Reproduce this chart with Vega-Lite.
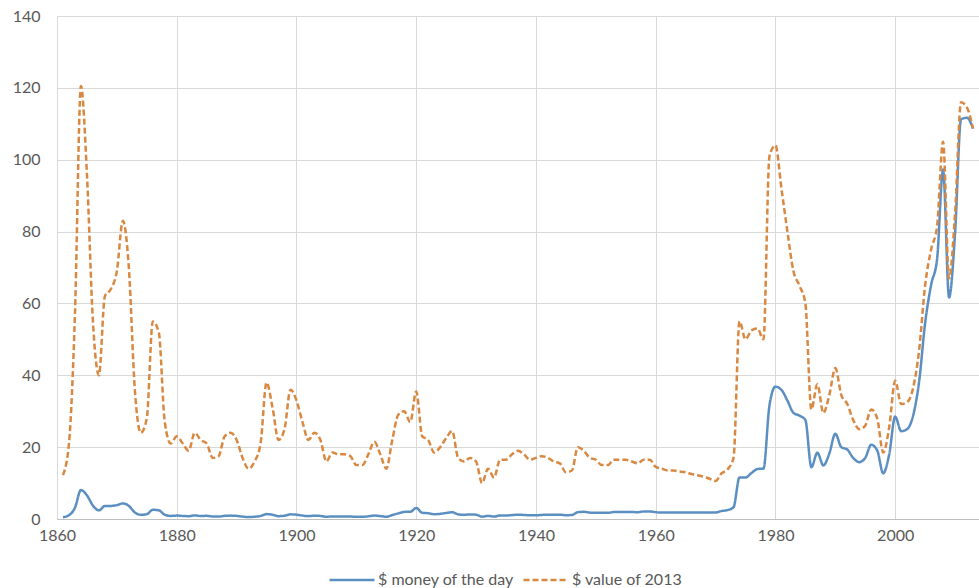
{
  "$schema": "https://vega.github.io/schema/vega-lite/v6.json",
  "width": 922,
  "height": 503,
  "autosize": {"type": "none"},
  "padding": {"left": 57, "top": 16, "right": 0, "bottom": 69},
  "background": "#ffffff",
  "config": {
    "view": {"stroke": null},
    "font": "Lato",
    "axis": {"labelFont": "Lato", "labelFontSize": 16, "labelColor": "#595959", "gridColor": "#d9d9d9", "gridWidth": 1, "ticks": false, "title": null, "labelFlush": false},
    "legend": {"labelFont": "Lato", "labelFontSize": 16, "labelColor": "#595959"}
  },
  "data": {
    "values": [
      {"year":1861,"$ money of the day":0.49,"$ value of 2013":12.2},
      {"year":1862,"$ money of the day":1.05,"$ value of 2013":21},
      {"year":1863,"$ money of the day":3.15,"$ value of 2013":57},
      {"year":1864,"$ money of the day":8.06,"$ value of 2013":120.5},
      {"year":1865,"$ money of the day":6.59,"$ value of 2013":96},
      {"year":1866,"$ money of the day":3.74,"$ value of 2013":55},
      {"year":1867,"$ money of the day":2.41,"$ value of 2013":40},
      {"year":1868,"$ money of the day":3.63,"$ value of 2013":62},
      {"year":1869,"$ money of the day":3.64,"$ value of 2013":64},
      {"year":1870,"$ money of the day":3.86,"$ value of 2013":69},
      {"year":1871,"$ money of the day":4.34,"$ value of 2013":83},
      {"year":1872,"$ money of the day":3.64,"$ value of 2013":70},
      {"year":1873,"$ money of the day":1.83,"$ value of 2013":36},
      {"year":1874,"$ money of the day":1.17,"$ value of 2013":24},
      {"year":1875,"$ money of the day":1.35,"$ value of 2013":28},
      {"year":1876,"$ money of the day":2.56,"$ value of 2013":55},
      {"year":1877,"$ money of the day":2.42,"$ value of 2013":52},
      {"year":1878,"$ money of the day":1.19,"$ value of 2013":27},
      {"year":1879,"$ money of the day":0.86,"$ value of 2013":21},
      {"year":1880,"$ money of the day":0.95,"$ value of 2013":23},
      {"year":1881,"$ money of the day":0.86,"$ value of 2013":21},
      {"year":1882,"$ money of the day":0.78,"$ value of 2013":19},
      {"year":1883,"$ money of the day":1.0,"$ value of 2013":24},
      {"year":1884,"$ money of the day":0.84,"$ value of 2013":22},
      {"year":1885,"$ money of the day":0.88,"$ value of 2013":21},
      {"year":1886,"$ money of the day":0.71,"$ value of 2013":17},
      {"year":1887,"$ money of the day":0.67,"$ value of 2013":17.5},
      {"year":1888,"$ money of the day":0.88,"$ value of 2013":23},
      {"year":1889,"$ money of the day":0.94,"$ value of 2013":24},
      {"year":1890,"$ money of the day":0.87,"$ value of 2013":22},
      {"year":1891,"$ money of the day":0.67,"$ value of 2013":17},
      {"year":1892,"$ money of the day":0.56,"$ value of 2013":14},
      {"year":1893,"$ money of the day":0.64,"$ value of 2013":16},
      {"year":1894,"$ money of the day":0.84,"$ value of 2013":21},
      {"year":1895,"$ money of the day":1.36,"$ value of 2013":38},
      {"year":1896,"$ money of the day":1.18,"$ value of 2013":31},
      {"year":1897,"$ money of the day":0.79,"$ value of 2013":22},
      {"year":1898,"$ money of the day":0.91,"$ value of 2013":25},
      {"year":1899,"$ money of the day":1.29,"$ value of 2013":36},
      {"year":1900,"$ money of the day":1.19,"$ value of 2013":33},
      {"year":1901,"$ money of the day":0.96,"$ value of 2013":27},
      {"year":1902,"$ money of the day":0.8,"$ value of 2013":22},
      {"year":1903,"$ money of the day":0.94,"$ value of 2013":24},
      {"year":1904,"$ money of the day":0.86,"$ value of 2013":22},
      {"year":1905,"$ money of the day":0.62,"$ value of 2013":16},
      {"year":1906,"$ money of the day":0.73,"$ value of 2013":18.5},
      {"year":1907,"$ money of the day":0.72,"$ value of 2013":18},
      {"year":1908,"$ money of the day":0.72,"$ value of 2013":18},
      {"year":1909,"$ money of the day":0.7,"$ value of 2013":17.5},
      {"year":1910,"$ money of the day":0.61,"$ value of 2013":15},
      {"year":1911,"$ money of the day":0.61,"$ value of 2013":15},
      {"year":1912,"$ money of the day":0.74,"$ value of 2013":18},
      {"year":1913,"$ money of the day":0.95,"$ value of 2013":21.5},
      {"year":1914,"$ money of the day":0.81,"$ value of 2013":18},
      {"year":1915,"$ money of the day":0.64,"$ value of 2013":14},
      {"year":1916,"$ money of the day":1.1,"$ value of 2013":22},
      {"year":1917,"$ money of the day":1.56,"$ value of 2013":29},
      {"year":1918,"$ money of the day":1.98,"$ value of 2013":30},
      {"year":1919,"$ money of the day":2.01,"$ value of 2013":27},
      {"year":1920,"$ money of the day":3.07,"$ value of 2013":35.5},
      {"year":1921,"$ money of the day":1.73,"$ value of 2013":23},
      {"year":1922,"$ money of the day":1.61,"$ value of 2013":22},
      {"year":1923,"$ money of the day":1.34,"$ value of 2013":18.5},
      {"year":1924,"$ money of the day":1.43,"$ value of 2013":20},
      {"year":1925,"$ money of the day":1.68,"$ value of 2013":22.5},
      {"year":1926,"$ money of the day":1.88,"$ value of 2013":24.5},
      {"year":1927,"$ money of the day":1.3,"$ value of 2013":17},
      {"year":1928,"$ money of the day":1.17,"$ value of 2013":16},
      {"year":1929,"$ money of the day":1.27,"$ value of 2013":17},
      {"year":1930,"$ money of the day":1.19,"$ value of 2013":16},
      {"year":1931,"$ money of the day":0.65,"$ value of 2013":10},
      {"year":1932,"$ money of the day":0.87,"$ value of 2013":14},
      {"year":1933,"$ money of the day":0.67,"$ value of 2013":11.5},
      {"year":1934,"$ money of the day":1.0,"$ value of 2013":16.5},
      {"year":1935,"$ money of the day":0.97,"$ value of 2013":16.5},
      {"year":1936,"$ money of the day":1.09,"$ value of 2013":18},
      {"year":1937,"$ money of the day":1.18,"$ value of 2013":19},
      {"year":1938,"$ money of the day":1.13,"$ value of 2013":18},
      {"year":1939,"$ money of the day":1.02,"$ value of 2013":16.5},
      {"year":1940,"$ money of the day":1.02,"$ value of 2013":17},
      {"year":1941,"$ money of the day":1.14,"$ value of 2013":17.5},
      {"year":1942,"$ money of the day":1.19,"$ value of 2013":17},
      {"year":1943,"$ money of the day":1.2,"$ value of 2013":16},
      {"year":1944,"$ money of the day":1.21,"$ value of 2013":15.5},
      {"year":1945,"$ money of the day":1.05,"$ value of 2013":13},
      {"year":1946,"$ money of the day":1.12,"$ value of 2013":13.5},
      {"year":1947,"$ money of the day":1.9,"$ value of 2013":20},
      {"year":1948,"$ money of the day":1.99,"$ value of 2013":19},
      {"year":1949,"$ money of the day":1.78,"$ value of 2013":17},
      {"year":1950,"$ money of the day":1.71,"$ value of 2013":16.5},
      {"year":1951,"$ money of the day":1.71,"$ value of 2013":15},
      {"year":1952,"$ money of the day":1.71,"$ value of 2013":15},
      {"year":1953,"$ money of the day":1.93,"$ value of 2013":16.5},
      {"year":1954,"$ money of the day":1.93,"$ value of 2013":16.5},
      {"year":1955,"$ money of the day":1.93,"$ value of 2013":16.5},
      {"year":1956,"$ money of the day":1.93,"$ value of 2013":16},
      {"year":1957,"$ money of the day":1.9,"$ value of 2013":15.5},
      {"year":1958,"$ money of the day":2.08,"$ value of 2013":16.5},
      {"year":1959,"$ money of the day":2.08,"$ value of 2013":16.5},
      {"year":1960,"$ money of the day":1.9,"$ value of 2013":14.5},
      {"year":1961,"$ money of the day":1.8,"$ value of 2013":14},
      {"year":1962,"$ money of the day":1.8,"$ value of 2013":13.5},
      {"year":1963,"$ money of the day":1.8,"$ value of 2013":13.5},
      {"year":1964,"$ money of the day":1.8,"$ value of 2013":13.2},
      {"year":1965,"$ money of the day":1.8,"$ value of 2013":13},
      {"year":1966,"$ money of the day":1.8,"$ value of 2013":12.5},
      {"year":1967,"$ money of the day":1.8,"$ value of 2013":12.2},
      {"year":1968,"$ money of the day":1.8,"$ value of 2013":11.8},
      {"year":1969,"$ money of the day":1.8,"$ value of 2013":11.2},
      {"year":1970,"$ money of the day":1.8,"$ value of 2013":10.6},
      {"year":1971,"$ money of the day":2.24,"$ value of 2013":12.7},
      {"year":1972,"$ money of the day":2.48,"$ value of 2013":13.8},
      {"year":1973,"$ money of the day":3.29,"$ value of 2013":17},
      {"year":1974,"$ money of the day":11.58,"$ value of 2013":55},
      {"year":1975,"$ money of the day":11.53,"$ value of 2013":50},
      {"year":1976,"$ money of the day":12.8,"$ value of 2013":52.5},
      {"year":1977,"$ money of the day":13.92,"$ value of 2013":53},
      {"year":1978,"$ money of the day":14.02,"$ value of 2013":50},
      {"year":1979,"$ money of the day":31.61,"$ value of 2013":101},
      {"year":1980,"$ money of the day":36.83,"$ value of 2013":104},
      {"year":1981,"$ money of the day":35.93,"$ value of 2013":92},
      {"year":1982,"$ money of the day":32.97,"$ value of 2013":80},
      {"year":1983,"$ money of the day":29.55,"$ value of 2013":69},
      {"year":1984,"$ money of the day":28.78,"$ value of 2013":65},
      {"year":1985,"$ money of the day":27.56,"$ value of 2013":60},
      {"year":1986,"$ money of the day":14.43,"$ value of 2013":30.5},
      {"year":1987,"$ money of the day":18.44,"$ value of 2013":37.5},
      {"year":1988,"$ money of the day":14.92,"$ value of 2013":29.5},
      {"year":1989,"$ money of the day":18.23,"$ value of 2013":34.5},
      {"year":1990,"$ money of the day":23.73,"$ value of 2013":42},
      {"year":1991,"$ money of the day":20.0,"$ value of 2013":34.5},
      {"year":1992,"$ money of the day":19.32,"$ value of 2013":32},
      {"year":1993,"$ money of the day":16.97,"$ value of 2013":27.5},
      {"year":1994,"$ money of the day":15.82,"$ value of 2013":25},
      {"year":1995,"$ money of the day":17.02,"$ value of 2013":26},
      {"year":1996,"$ money of the day":20.67,"$ value of 2013":30.5},
      {"year":1997,"$ money of the day":19.09,"$ value of 2013":28},
      {"year":1998,"$ money of the day":12.72,"$ value of 2013":18.5},
      {"year":1999,"$ money of the day":17.97,"$ value of 2013":25.5},
      {"year":2000,"$ money of the day":28.5,"$ value of 2013":38.5},
      {"year":2001,"$ money of the day":24.44,"$ value of 2013":32},
      {"year":2002,"$ money of the day":25.02,"$ value of 2013":32.5},
      {"year":2003,"$ money of the day":28.83,"$ value of 2013":36.5},
      {"year":2004,"$ money of the day":38.27,"$ value of 2013":47},
      {"year":2005,"$ money of the day":54.52,"$ value of 2013":65},
      {"year":2006,"$ money of the day":65.14,"$ value of 2013":75},
      {"year":2007,"$ money of the day":72.39,"$ value of 2013":81.5},
      {"year":2008,"$ money of the day":97.26,"$ value of 2013":105},
      {"year":2009,"$ money of the day":61.67,"$ value of 2013":67},
      {"year":2010,"$ money of the day":79.5,"$ value of 2013":85},
      {"year":2011,"$ money of the day":111.26,"$ value of 2013":116},
      {"year":2012,"$ money of the day":111.67,"$ value of 2013":114.5},
      {"year":2013,"$ money of the day":108.66,"$ value of 2013":108.7}
    ]
  },
  "transform": [
    {"fold": ["$ money of the day", "$ value of 2013"], "as": ["series", "price"]}
  ],
  "mark": {"type": "line", "interpolate": "monotone", "strokeWidth": 2.5, "clip": true},
  "encoding": {
    "x": {
      "field": "year", "type": "quantitative",
      "scale": {"domain": [1860, 2014], "nice": false, "zero": false},
      "axis": {"values": [1860, 1880, 1900, 1920, 1940, 1960, 1980, 2000], "format": "d", "domain": true, "domainColor": "#bfbfbf", "domainWidth": 1, "labelPadding": 8, "grid": true, "labelFlush": false}
    },
    "y": {
      "field": "price", "type": "quantitative",
      "scale": {"domain": [0, 140], "nice": false},
      "axis": {"values": [0, 20, 40, 60, 80, 100, 120, 140], "domain": false, "labelPadding": 17, "grid": true}
    },
    "color": {
      "field": "series", "type": "nominal",
      "scale": {"domain": ["$ money of the day", "$ value of 2013"], "range": ["#5b8fc2", "#d98842"]},
      "legend": {"orient": "none", "direction": "horizontal", "legendX": 271, "legendY": 540, "title": null, "symbolType": "stroke", "symbolSize": 2025, "symbolStrokeWidth": 2.5, "labelOffset": 2, "columnPadding": 4}
    },
    "strokeDash": {
      "field": "series", "type": "nominal",
      "scale": {"domain": ["$ money of the day", "$ value of 2013"], "range": [[1, 0], [6, 3]]},
      "legend": {"orient": "none", "direction": "horizontal", "legendX": 271, "legendY": 540, "title": null, "symbolType": "stroke", "symbolSize": 2025, "symbolStrokeWidth": 2.5, "labelOffset": 2, "columnPadding": 4}
    }
  }
}
